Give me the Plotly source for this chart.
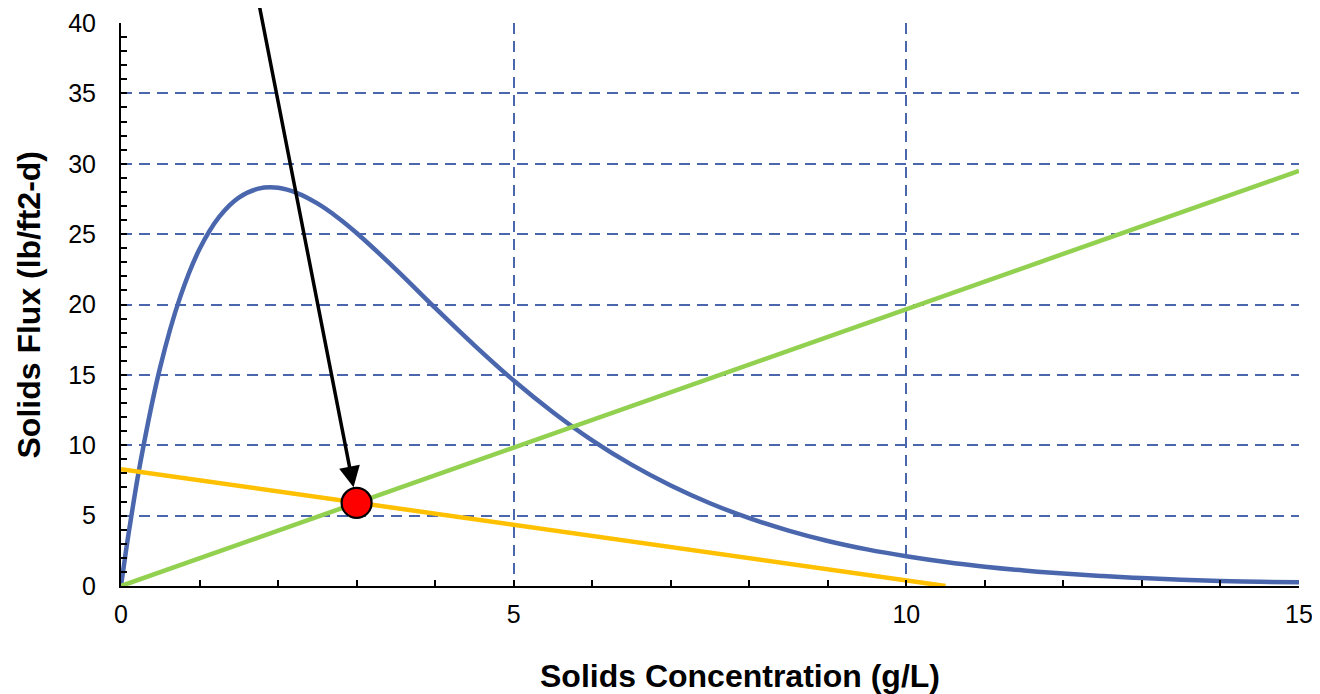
import plotly.graph_objects as go

# Blue flux curve
flux_x = [0, 0.05, 0.1, 0.25, 0.5, 0.75, 1.0, 1.25, 1.5, 1.75, 2.0, 2.25, 2.5, 2.75, 3.0,
          3.5, 4.0, 4.5, 5.0, 5.5, 6.0, 6.5, 7.0, 7.5, 8.0, 8.5, 9.0, 9.5, 10.0,
          10.5, 11.0, 11.5, 12.0, 12.5, 13.0, 13.5, 14.0, 14.5, 15.0]
flux_y = [0, 1.97, 3.84, 8.88, 15.57, 20.47, 23.94, 26.23, 27.60, 28.23, 28.29, 27.90, 27.18,
          26.22, 25.08, 22.50, 19.76, 17.10, 14.60, 12.35, 10.35, 8.62, 7.14, 5.88, 4.82,
          3.94, 3.20, 2.60, 2.11, 1.70, 1.37, 1.10, 0.88, 0.71, 0.56, 0.45, 0.36, 0.30, 0.26]

# Green overflow line
green_x = [0, 15]
green_y = [0, 29.5]

# Orange underflow line
orange_x = [0, 10.5]
orange_y = [8.3, 0]

# Operating point
point_x = [3.0]
point_y = [5.9]

# Arrow tail
arrow_tail = (1.745, 41.7)

x_title = "Solids Concentration (g/L)"
y_title = "Solids Flux (lb/ft2-d)"

blue = "#4A67AE"
grid = "#4A67AE"

fig = go.Figure()
fig.add_trace(go.Scatter(x=flux_x, y=flux_y, mode="lines",
                         line=dict(color=blue, width=4.5, shape="spline"),
                         showlegend=False, cliponaxis=False))
fig.add_trace(go.Scatter(x=green_x, y=green_y, mode="lines",
                         line=dict(color="#92D050", width=4.5), showlegend=False))
fig.add_trace(go.Scatter(x=orange_x, y=orange_y, mode="lines",
                         line=dict(color="#FFC000", width=4.5), showlegend=False))
fig.add_trace(go.Scatter(x=point_x, y=point_y, mode="markers",
                         marker=dict(color="#FF0000", size=30, line=dict(color="black", width=2.2)),
                         showlegend=False, cliponaxis=False))

fig.add_annotation(x=point_x[0], y=point_y[0], ax=arrow_tail[0], ay=arrow_tail[1],
                   xref="x", yref="y", axref="x", ayref="y", text="",
                   showarrow=True, arrowhead=2, arrowsize=1.2, arrowwidth=3.5,
                   arrowcolor="black", standoff=16)

# Axis titles (placed like the original, Excel-style)
fig.add_annotation(text="<b>" + x_title + "</b>", xref="paper", yref="paper",
                   x=0.5255, y=0, xanchor="center", yanchor="middle", yshift=-90,
                   showarrow=False, font=dict(size=32))
fig.add_annotation(text="<b>" + y_title + "</b>", xref="paper", yref="paper",
                   x=0, y=0.5, xanchor="center", yanchor="middle", xshift=-93,
                   textangle=-90, showarrow=False, font=dict(size=32))

font_family = "Liberation Sans, Arial, sans-serif"
fig.update_layout(
    width=1312, height=686,
    margin=dict(l=113, r=21, t=15, b=108, autoexpand=False),
    plot_bgcolor="white", paper_bgcolor="white",
    font=dict(family=font_family, color="black", size=25),
)
fig.update_xaxes(
    range=[0, 15], tickvals=[0, 5, 10, 15], ticktext=["0", "5", "10", "15"],
    showline=True, linecolor="black", linewidth=2,
    ticks="inside", ticklen=6, tickwidth=2, tickcolor="black",
    minor=dict(dtick=1, ticks="inside", ticklen=6, tickwidth=2, tickcolor="black", showgrid=False),
    showgrid=True, gridcolor=grid, gridwidth=2, griddash="11px,7px",
    zeroline=False, tickfont=dict(size=25), ticklabelstandoff=5, automargin=False,
)
fig.update_yaxes(
    range=[0, 40], tickvals=[0, 5, 10, 15, 20, 25, 30, 35, 40],
    showline=True, linecolor="black", linewidth=2,
    ticks="inside", ticklen=6, tickwidth=2, tickcolor="black",
    minor=dict(dtick=1, ticks="inside", ticklen=6, tickwidth=2, tickcolor="black", showgrid=False),
    showgrid=True, gridcolor=grid, gridwidth=2, griddash="11px,7px",
    zeroline=False, tickfont=dict(size=25), ticklabelstandoff=18, automargin=False,
)

fig.write_html("out.html")
